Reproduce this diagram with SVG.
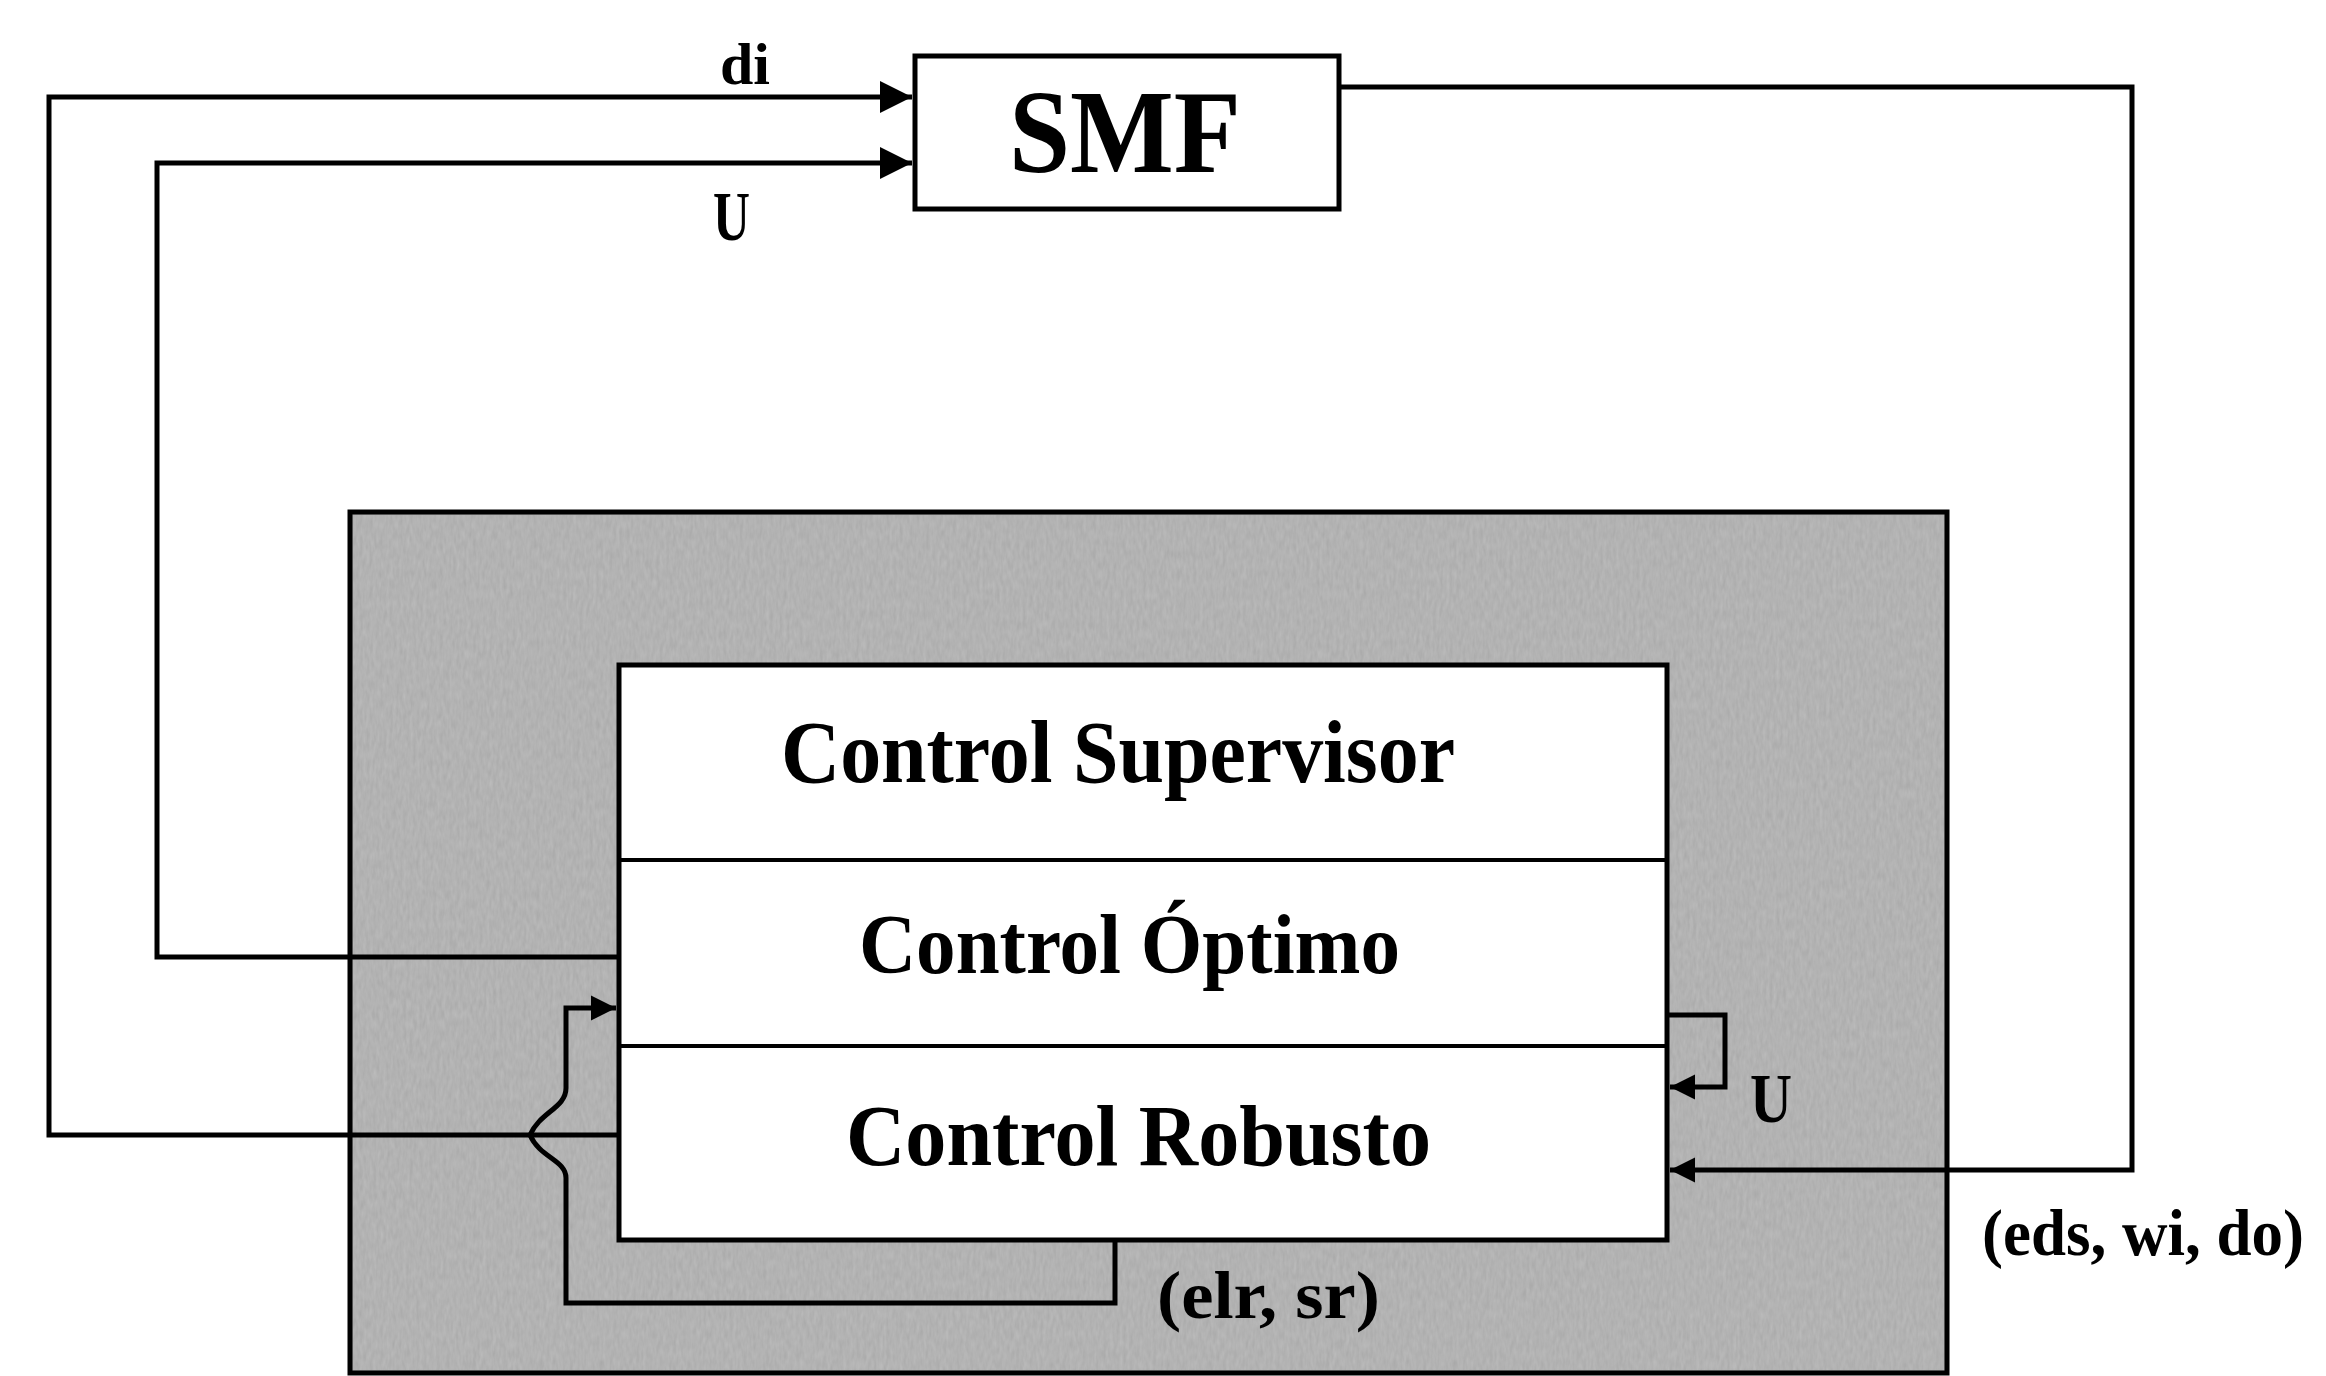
<svg xmlns="http://www.w3.org/2000/svg" width="2326" height="1376" viewBox="0 0 2326 1376">
<style>
  .ln{fill:none;stroke:#000;stroke-width:5;stroke-linejoin:miter}
  .box{fill:#fff;stroke:#000;stroke-width:5}
  .t{font-family:"Liberation Serif","Times New Roman",serif;font-weight:bold;fill:#000}
</style>
<defs>
  <marker id="ah" viewBox="0 0 10 10" refX="10" refY="5" markerWidth="6.5" markerHeight="7.5" markerUnits="strokeWidth" orient="auto">
    <path d="M0,0 L10,5 L0,10 Z" fill="#000"/>
  </marker>
  <marker id="ahs" viewBox="0 0 10 10" refX="10" refY="5" markerWidth="5" markerHeight="6.5" markerUnits="strokeWidth" orient="auto">
    <path d="M0,0 L10,5 L0,10 Z" fill="#000"/>
  </marker>
  <filter id="grain" x="0" y="0" width="100%" height="100%">
    <feTurbulence type="fractalNoise" baseFrequency="0.3 0.1" numOctaves="2" seed="7" result="n"/>
    <feColorMatrix in="n" type="luminanceToAlpha" result="a"/>
    <feFlood flood-color="#ffffff" result="w"/>
    <feComposite in="w" in2="a" operator="in"/>
    <feComponentTransfer><feFuncA type="linear" slope="0.6"/></feComponentTransfer>
  </filter>
</defs>

<g id="controller">
  <rect x="350" y="512" width="1597" height="861" fill="#a5a5a5" stroke="#000" stroke-width="5"/>
  <rect x="353" y="515" width="1591" height="855" fill="#000" filter="url(#grain)" opacity="0.5"/>
</g>

<g id="smf">
  <rect class="box" x="915" y="56" width="424" height="153"/>
  <text class="t" x="1125" y="172" font-size="118" text-anchor="middle" textLength="232" lengthAdjust="spacingAndGlyphs">SMF</text>
</g>

<g id="control-stack">
  <rect class="box" x="619" y="665" width="1048" height="575"/>
  <line x1="619" y1="860" x2="1667" y2="860" stroke="#000" stroke-width="4"/>
  <line x1="619" y1="1046" x2="1667" y2="1046" stroke="#000" stroke-width="4"/>
</g>
<g id="control-supervisor">
  <text class="t" x="781" y="782" font-size="88" textLength="674" lengthAdjust="spacingAndGlyphs">Control Supervisor</text>
</g>
<g id="control-optimo">
  <text class="t" x="859" y="973" font-size="84" textLength="541" lengthAdjust="spacingAndGlyphs">Control Óptimo</text>
</g>
<g id="control-robusto">
  <text class="t" x="846" y="1165" font-size="86" textLength="585" lengthAdjust="spacingAndGlyphs">Control Robusto</text>
</g>

<g id="connectors">
  <path class="ln" d="M619,1135 H49 V97 H912" marker-end="url(#ah)"/>
  <path class="ln" d="M619,957 H157 V163 H912" marker-end="url(#ah)"/>
  <path class="ln" d="M1339,87 H2132 V1170 H1670" marker-end="url(#ahs)"/>
  <path class="ln" d="M1667,1015 H1725 V1087 H1670" marker-end="url(#ahs)"/>
  <path class="ln" d="M1115,1240 V1303 H566 V1178 C566,1160 540,1158 530,1135 C540,1112 566,1108 566,1088 V1008 H616" marker-end="url(#ahs)"/>
</g>

<g id="labels">
  <text class="t" x="720" y="84" font-size="60" textLength="50" lengthAdjust="spacingAndGlyphs">di</text>
  <text class="t" x="713" y="240" font-size="70" textLength="37" lengthAdjust="spacingAndGlyphs">U</text>
  <text class="t" x="1750" y="1122" font-size="70" textLength="42" lengthAdjust="spacingAndGlyphs">U</text>
  <text class="t" x="1157" y="1318" font-size="68" textLength="223" lengthAdjust="spacingAndGlyphs">(elr, sr)</text>
  <text class="t" x="1982" y="1255" font-size="66" textLength="322" lengthAdjust="spacingAndGlyphs">(eds, wi, do)</text>
</g>
</svg>
